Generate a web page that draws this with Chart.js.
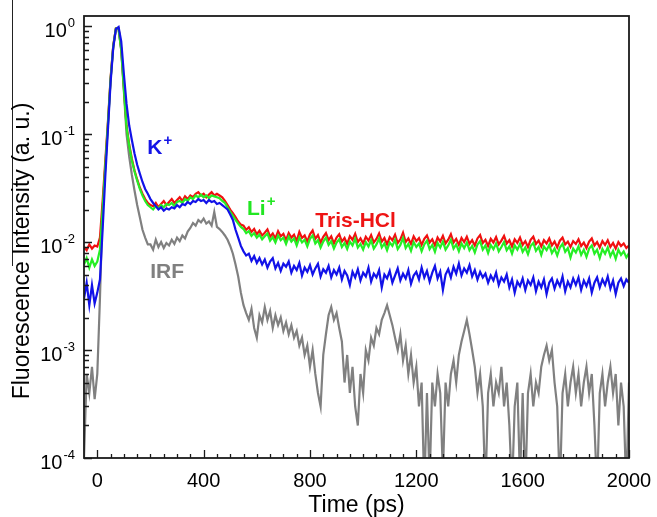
<!DOCTYPE html>
<html>
<head>
<meta charset="utf-8">
<script src="https://cdn.jsdelivr.net/npm/chart.js@4.4.1/dist/chart.umd.min.js"></script>
<style>
  html, body { margin: 0; padding: 0; background: #fff; }
</style>
</head>
<body>
<canvas id="decay" width="657" height="517"></canvas>
<script>
// Tiempo (ps), muestreado cada 10 ps
const timePs = [
  -50, -40, -30, -20, -10,
  0, 10, 20, 30, 40, 50, 60, 70, 80, 90,
  100, 110, 120, 130, 140, 150, 160, 170, 180, 190,
  200, 210, 220, 230, 240, 250, 260, 270, 280, 290,
  300, 310, 320, 330, 340, 350, 360, 370, 380, 390,
  400, 410, 420, 430, 440, 450, 460, 470, 480, 490,
  500, 510, 520, 530, 540, 550, 560, 570, 580, 590,
  600, 610, 620, 630, 640, 650, 660, 670, 680, 690,
  700, 710, 720, 730, 740, 750, 760, 770, 780, 790,
  800, 810, 820, 830, 840, 850, 860, 870, 880, 890,
  900, 910, 920, 930, 940, 950, 960, 970, 980, 990,
  1000, 1010, 1020, 1030, 1040, 1050, 1060, 1070, 1080, 1090,
  1100, 1110, 1120, 1130, 1140, 1150, 1160, 1170, 1180, 1190,
  1200, 1210, 1220, 1230, 1240, 1250, 1260, 1270, 1280, 1290,
  1300, 1310, 1320, 1330, 1340, 1350, 1360, 1370, 1380, 1390,
  1400, 1410, 1420, 1430, 1440, 1450, 1460, 1470, 1480, 1490,
  1500, 1510, 1520, 1530, 1540, 1550, 1560, 1570, 1580, 1590,
  1600, 1610, 1620, 1630, 1640, 1650, 1660, 1670, 1680, 1690,
  1700, 1710, 1720, 1730, 1740, 1750, 1760, 1770, 1780, 1790,
  1800, 1810, 1820, 1830, 1840, 1850, 1860, 1870, 1880, 1890,
  1900, 1910, 1920, 1930, 1940, 1950, 1960, 1970, 1980, 1990,
  2000
];

const trisHcl = [
  0.0090, 0.0084, 0.0095, 0.0087, 0.0093,
  0.0091, 0.0110, 0.024, 0.056, 0.13, 0.33, 0.66, 0.95, 0.96, 0.62,
  0.27, 0.12, 0.080, 0.059, 0.046, 0.038, 0.032, 0.028, 0.025, 0.023,
  0.022, 0.0215, 0.023, 0.021, 0.0225, 0.024, 0.022, 0.0235, 0.025, 0.023,
  0.0245, 0.026, 0.024, 0.0265, 0.025, 0.027, 0.026, 0.028, 0.029, 0.027,
  0.028, 0.026, 0.0275, 0.029, 0.027, 0.028, 0.027, 0.026, 0.024, 0.022,
  0.020, 0.0185, 0.017, 0.0155, 0.0145, 0.0142, 0.0130, 0.0137, 0.0124, 0.0132,
  0.0118, 0.0127, 0.0115, 0.0122, 0.0131, 0.0112, 0.0120, 0.0108, 0.0126, 0.0113,
  0.0119, 0.0104, 0.0121, 0.0110, 0.0117, 0.0102, 0.0124, 0.0109, 0.0115, 0.0101,
  0.0118, 0.0128, 0.0107, 0.0116, 0.0099, 0.0112, 0.0121, 0.0104, 0.0113, 0.0097,
  0.0110, 0.0118, 0.0101, 0.0109, 0.0096, 0.0113, 0.0105, 0.0119, 0.0100, 0.0108,
  0.0097, 0.0112, 0.0103, 0.0116, 0.0099, 0.0107, 0.0120, 0.0101, 0.0109, 0.0095,
  0.0111, 0.0104, 0.0117, 0.0098, 0.0106, 0.0122, 0.0100, 0.0108, 0.0096, 0.0113,
  0.0102, 0.0109, 0.0094, 0.0107, 0.0115, 0.0099, 0.0106, 0.0093, 0.0110, 0.0101,
  0.0114, 0.0097, 0.0105, 0.0118, 0.0099, 0.0107, 0.0094, 0.0109, 0.0100, 0.0112,
  0.0096, 0.0104, 0.0093, 0.0108, 0.0116, 0.0098, 0.0105, 0.0092, 0.0107, 0.0099,
  0.0111, 0.0095, 0.0103, 0.0114, 0.0097, 0.0104, 0.0091, 0.0106, 0.0098, 0.0110,
  0.0094, 0.0102, 0.0090, 0.0105, 0.0112, 0.0096, 0.0103, 0.0091, 0.0104, 0.0097,
  0.0108, 0.0093, 0.0101, 0.0089, 0.0103, 0.0110, 0.0095, 0.0101, 0.0090, 0.0102,
  0.0096, 0.0106, 0.0092, 0.0099, 0.0088, 0.0101, 0.0108, 0.0093, 0.0100, 0.0089,
  0.0102, 0.0094, 0.0104, 0.0090, 0.0098, 0.0087, 0.0100, 0.0092, 0.0097, 0.0088,
  0.0093
];

const liIon = [
  0.0062, 0.0071, 0.0058, 0.0069, 0.0060,
  0.0066, 0.0085, 0.020, 0.050, 0.125, 0.32, 0.65, 0.95, 0.95, 0.60,
  0.26, 0.115, 0.078, 0.057, 0.045, 0.037, 0.031, 0.027, 0.024, 0.022,
  0.021, 0.020, 0.0215, 0.0205, 0.022, 0.021, 0.0225, 0.022, 0.023, 0.0215,
  0.0235, 0.024, 0.023, 0.025, 0.024, 0.026, 0.025, 0.027, 0.026, 0.0275,
  0.026, 0.027, 0.0255, 0.027, 0.0265, 0.026, 0.0255, 0.024, 0.023, 0.021,
  0.019, 0.0175, 0.016, 0.0148, 0.0138, 0.0132, 0.0121, 0.0126, 0.0114, 0.0121,
  0.0110, 0.0117, 0.0106, 0.0113, 0.0120, 0.0103, 0.0111, 0.0099, 0.0115, 0.0104,
  0.0110, 0.0096, 0.0112, 0.0101, 0.0108, 0.0093, 0.0110, 0.0099, 0.0105, 0.0091,
  0.0107, 0.0115, 0.0097, 0.0104, 0.0089, 0.0101, 0.0110, 0.0094, 0.0102, 0.0087,
  0.0099, 0.0106, 0.0090, 0.0098, 0.0086, 0.0101, 0.0093, 0.0107, 0.0089, 0.0096,
  0.0085, 0.0100, 0.0091, 0.0104, 0.0087, 0.0095, 0.0108, 0.0089, 0.0097, 0.0084,
  0.0099, 0.0092, 0.0105, 0.0086, 0.0094, 0.0109, 0.0088, 0.0096, 0.0083, 0.0100,
  0.0090, 0.0097, 0.0082, 0.0095, 0.0103, 0.0086, 0.0094, 0.0081, 0.0098, 0.0089,
  0.0101, 0.0085, 0.0093, 0.0105, 0.0087, 0.0095, 0.0082, 0.0097, 0.0088, 0.0099,
  0.0084, 0.0092, 0.0080, 0.0095, 0.0102, 0.0085, 0.0093, 0.0079, 0.0094, 0.0086,
  0.0097, 0.0082, 0.0090, 0.0100, 0.0084, 0.0091, 0.0078, 0.0093, 0.0085, 0.0096,
  0.0081, 0.0089, 0.0077, 0.0092, 0.0098, 0.0083, 0.0090, 0.0076, 0.0091, 0.0084,
  0.0094, 0.0079, 0.0087, 0.0075, 0.0089, 0.0096, 0.0081, 0.0088, 0.0072, 0.0087,
  0.0080, 0.0091, 0.0076, 0.0085, 0.0073, 0.0087, 0.0093, 0.0078, 0.0085, 0.0071,
  0.0086, 0.0078, 0.0089, 0.0074, 0.0083, 0.0070, 0.0085, 0.0076, 0.0082, 0.0072,
  0.0079
];

const kIon = [
  0.0030, 0.0042, 0.0026, 0.0040, 0.0027,
  0.0034, 0.0045, 0.013, 0.040, 0.11, 0.30, 0.63, 0.94, 0.98, 0.72,
  0.36, 0.19, 0.12, 0.088, 0.066, 0.052, 0.043, 0.036, 0.031, 0.028,
  0.025, 0.023, 0.0215, 0.020, 0.021, 0.0195, 0.0205, 0.020, 0.021, 0.0205,
  0.022, 0.021, 0.0225, 0.022, 0.0235, 0.0225, 0.024, 0.0235, 0.025, 0.024,
  0.0245, 0.023, 0.0245, 0.0235, 0.024, 0.0225, 0.023, 0.022, 0.021, 0.020,
  0.018, 0.016, 0.013, 0.011, 0.0092, 0.0082, 0.0075, 0.0078, 0.0067, 0.0074,
  0.0064, 0.0071, 0.0062, 0.0069, 0.0058, 0.0066, 0.0071, 0.0057, 0.0064, 0.0054,
  0.0063, 0.0059, 0.0066, 0.0052, 0.0060, 0.0055, 0.0064, 0.0049, 0.0058, 0.0053,
  0.0061, 0.0050, 0.0057, 0.0063, 0.0048, 0.0056, 0.0052, 0.0060, 0.0047, 0.0055,
  0.0050, 0.0058, 0.0045, 0.0054, 0.0049, 0.0040, 0.0053, 0.0047, 0.0056, 0.0044,
  0.0052, 0.0048, 0.0058, 0.0043, 0.0051, 0.0047, 0.0055, 0.0038, 0.0050, 0.0046,
  0.0054, 0.0042, 0.0049, 0.0057, 0.0044, 0.0051, 0.0046, 0.0055, 0.0041, 0.0049,
  0.0053, 0.0045, 0.0058, 0.0047, 0.0054, 0.0043, 0.0052, 0.0060, 0.0046, 0.0053,
  0.0036, 0.0050, 0.0056, 0.0047, 0.0059, 0.0051, 0.0063, 0.0049, 0.0057, 0.0052,
  0.0061, 0.0048, 0.0055, 0.0045, 0.0053, 0.0047, 0.0051, 0.0042, 0.0049, 0.0044,
  0.0052, 0.0040, 0.0047, 0.0043, 0.0050, 0.0038, 0.0045, 0.0034, 0.0043, 0.0039,
  0.0046, 0.0036, 0.0044, 0.0040, 0.0047, 0.0035, 0.0043, 0.0038, 0.0045, 0.0033,
  0.0042, 0.0046, 0.0037, 0.0044, 0.0039, 0.0048, 0.0035, 0.0043, 0.0038, 0.0046,
  0.0040, 0.0047, 0.0036, 0.0044, 0.0039, 0.0046, 0.0034, 0.0042, 0.0047, 0.0038,
  0.0045, 0.0040, 0.0048, 0.0037, 0.0044, 0.0033, 0.0042, 0.0046, 0.0039, 0.0045,
  0.0042
];

const irf = [
  0.0001, 0.0006, 0.0004, 0.0007, 0.00035,
  0.0006, 0.0030, 0.020, 0.050, 0.12, 0.32, 0.65, 0.95, 0.94, 0.60,
  0.25, 0.10, 0.062, 0.042, 0.030, 0.022, 0.017, 0.013, 0.011, 0.0095,
  0.0095, 0.0085, 0.0105, 0.0090, 0.0100, 0.0088, 0.0098, 0.0093, 0.0105, 0.0096,
  0.0110, 0.0102, 0.0115, 0.0108, 0.0125, 0.0135, 0.0150, 0.0142, 0.0160, 0.0152,
  0.0165, 0.0148, 0.0155, 0.0142, 0.0190, 0.0138, 0.0132, 0.0124, 0.0115, 0.0105,
  0.0092, 0.0078, 0.0062, 0.0048, 0.0034, 0.0026, 0.0022, 0.0019, 0.0024, 0.0016,
  0.0013, 0.0021, 0.0018, 0.0025, 0.0019, 0.0023, 0.0016, 0.0021, 0.0017, 0.0020,
  0.0015, 0.0018, 0.0014, 0.0017, 0.0013, 0.0015, 0.0011, 0.0013, 0.0009, 0.0011,
  0.0007, 0.0010, 0.0006, 0.0004, 0.0003, 0.0009, 0.0014, 0.0021, 0.0025, 0.0019,
  0.0022, 0.0016, 0.0012, 0.0005, 0.0009, 0.0004, 0.0007, 0.0003, 0.0002, 0.0006,
  0.0004, 0.0010, 0.0008, 0.0013, 0.0011, 0.0016, 0.0014, 0.0019, 0.0022, 0.0026,
  0.0021, 0.0017, 0.0013, 0.0010, 0.0014, 0.0008, 0.0011, 0.0006, 0.0009, 0.0005,
  0.0007, 0.0003, 0.0005, 0.00005, 0.0004, 0.00006, 0.0005, 0.0003, 0.0006, 0.0004,
  0.00007, 0.0005, 0.0003, 0.0006, 0.0008, 0.0005, 0.0009, 0.0012, 0.0015, 0.0019,
  0.0014, 0.0010, 0.0007, 0.0004, 0.0006, 0.0003, 0.00005, 0.0004, 0.0006, 0.0003,
  0.0005, 0.0004, 0.0007, 0.0003, 0.0005, 0.0002, 0.00005, 0.0003, 0.0005, 0.00006,
  0.0004, 0.00005, 0.0004, 0.0006, 0.0003, 0.0005, 0.0004, 0.0007, 0.0009, 0.0011,
  0.0008, 0.0010, 0.0005, 0.0003, 0.00005, 0.0004, 0.0006, 0.0003, 0.0005, 0.0007,
  0.0004, 0.0006, 0.0003, 0.0005, 0.0007, 0.0004, 0.0006, 0.0002, 0.00005, 0.0004,
  0.0006, 0.0003, 0.0005, 0.0007, 0.0004, 0.0006, 0.0002, 0.0005, 0.0003, 0.00005,
  0.0005
];

// Etiquetas de ejes
const xTickValues = [0, 400, 800, 1200, 1600, 2000];
const yDecades = [1e-4, 1e-3, 1e-2, 1e-1, 1];
const yDecadeExp = ['-4', '-3', '-2', '-1', '0'];

const FONT = '"Liberation Sans", Arial, Helvetica, sans-serif';

// Rótulos dentro de la gráfica (posición en coordenadas de datos)
const curveNotes = [
  { text: 'K', sup: '+', t: 188, v: 0.066, color: '#1414e6' },
  { text: 'Li', sup: '+', t: 563, v: 0.0178, color: '#22e622' },
  { text: 'Tris-HCl', sup: '', t: 820, v: 0.0138, color: '#ee1414' },
  { text: 'IRF', sup: '', t: 199, v: 0.0046, color: '#808080' }
];

function toPoints(values) {
  return timePs.map((t, i) => ({ x: t, y: values[i] }));
}

// Marco, marcas hacia dentro, etiquetas 10^n y rótulos
const axesDeco = {
  id: 'axesDeco',
  afterDraw(chart) {
    const { ctx, chartArea: a, scales: { x, y } } = chart;
    ctx.save();

    // línea suelta a la izquierda (como en la figura original)
    ctx.strokeStyle = '#222';
    ctx.lineWidth = 1;
    ctx.beginPath();
    ctx.moveTo(12.5, 0);
    ctx.lineTo(12.5, 266);
    ctx.stroke();

    ctx.strokeStyle = '#1a1a1a';
    ctx.lineWidth = 1.3;
    ctx.beginPath();
    x.ticks.forEach(tk => {
      if (tk.value <= x.min) return;
      const px = Math.round(x.getPixelForValue(tk.value)) + 0.5;
      const len = xTickValues.includes(tk.value) ? 8 : 4;
      ctx.moveTo(px, a.bottom);
      ctx.lineTo(px, a.bottom - len);
    });
    yDecades.forEach(d => {
      const py = Math.round(y.getPixelForValue(d)) + 0.5;
      ctx.moveTo(a.left, py);
      ctx.lineTo(a.left + 8, py);
      for (let m = 2; m <= 9; m++) {
        if (m * d > y.max) break;
        const pm = Math.round(y.getPixelForValue(m * d)) + 0.5;
        ctx.moveTo(a.left, pm);
        ctx.lineTo(a.left + 5, pm);
      }
    });
    ctx.stroke();

    ctx.lineWidth = 1.8;
    ctx.strokeRect(a.left, a.top, a.right - a.left, a.bottom - a.top);

    // etiquetas del eje y con exponente
    ctx.fillStyle = '#000';
    ctx.textBaseline = 'alphabetic';
    yDecades.forEach((d, i) => {
      const py = y.getPixelForValue(d);
      const right = a.left - 9;
      ctx.font = '13px ' + FONT;
      const ew = ctx.measureText(yDecadeExp[i]).width;
      ctx.textAlign = 'left';
      ctx.fillText(yDecadeExp[i], right - ew, py + 1);
      ctx.font = '20px ' + FONT;
      ctx.textAlign = 'right';
      ctx.fillText('10', right - ew - 1, py + 11);
    });

    // título del eje y
    ctx.save();
    ctx.translate(23, 251);
    ctx.rotate(-Math.PI / 2);
    ctx.textAlign = 'center';
    ctx.textBaseline = 'middle';
    ctx.font = '23px ' + FONT;
    ctx.fillText('Fluorescence Intensity (a. u.)', 0, 0);
    ctx.restore();

    // rótulos de las curvas
    curveNotes.forEach(n => {
      const px = x.getPixelForValue(n.t);
      const py = y.getPixelForValue(n.v);
      ctx.fillStyle = n.color;
      ctx.textAlign = 'left';
      ctx.font = 'bold 21px ' + FONT;
      ctx.fillText(n.text, px, py);
      if (n.sup) {
        const w = ctx.measureText(n.text).width;
        ctx.font = 'bold 15px ' + FONT;
        ctx.fillText(n.sup, px + w + 1, py - 9);
      }
    });

    ctx.restore();
  }
};

new Chart(document.getElementById('decay'), {
  type: 'line',
  data: {
    datasets: [
      { label: 'K+', data: toPoints(kIon), borderColor: '#1212e8', borderWidth: 2.2 },
      { label: 'Li+', data: toPoints(liIon), borderColor: '#25ee25', borderWidth: 2.2 },
      { label: 'Tris-HCl', data: toPoints(trisHcl), borderColor: '#f01010', borderWidth: 2.2 },
      { label: 'IRF', data: toPoints(irf), borderColor: '#808080', borderWidth: 2.2 }
    ]
  },
  options: {
    responsive: false,
    animation: false,
    elements: { point: { radius: 0 }, line: { tension: 0 } },
    layout: { padding: { left: 0, right: 28, top: 16, bottom: 0 } },
    plugins: {
      legend: { display: false },
      tooltip: { enabled: false }
    },
    scales: {
      x: {
        type: 'linear',
        min: -50,
        max: 2000,
        grid: { display: false },
        border: { display: false },
        ticks: {
          stepSize: 50,
          autoSkip: false,
          maxRotation: 0,
          padding: 3,
          color: '#000',
          font: { family: FONT, size: 20 },
          callback: v => (xTickValues.includes(v) ? String(v) : '')
        },
        title: {
          display: true,
          text: 'Time (ps)',
          color: '#000',
          font: { family: FONT, size: 23, lineHeight: 1 },
          padding: { top: 0, bottom: 0 }
        },
        afterFit: s => { s.height = 59; }
      },
      y: {
        type: 'logarithmic',
        min: 1e-4,
        max: 1.24,
        grid: { display: false },
        border: { display: false },
        ticks: { display: false },
        afterFit: s => { s.height = s.height; s.width = 84; }
      }
    }
  },
  plugins: [axesDeco]
});
</script>
</body>
</html>
